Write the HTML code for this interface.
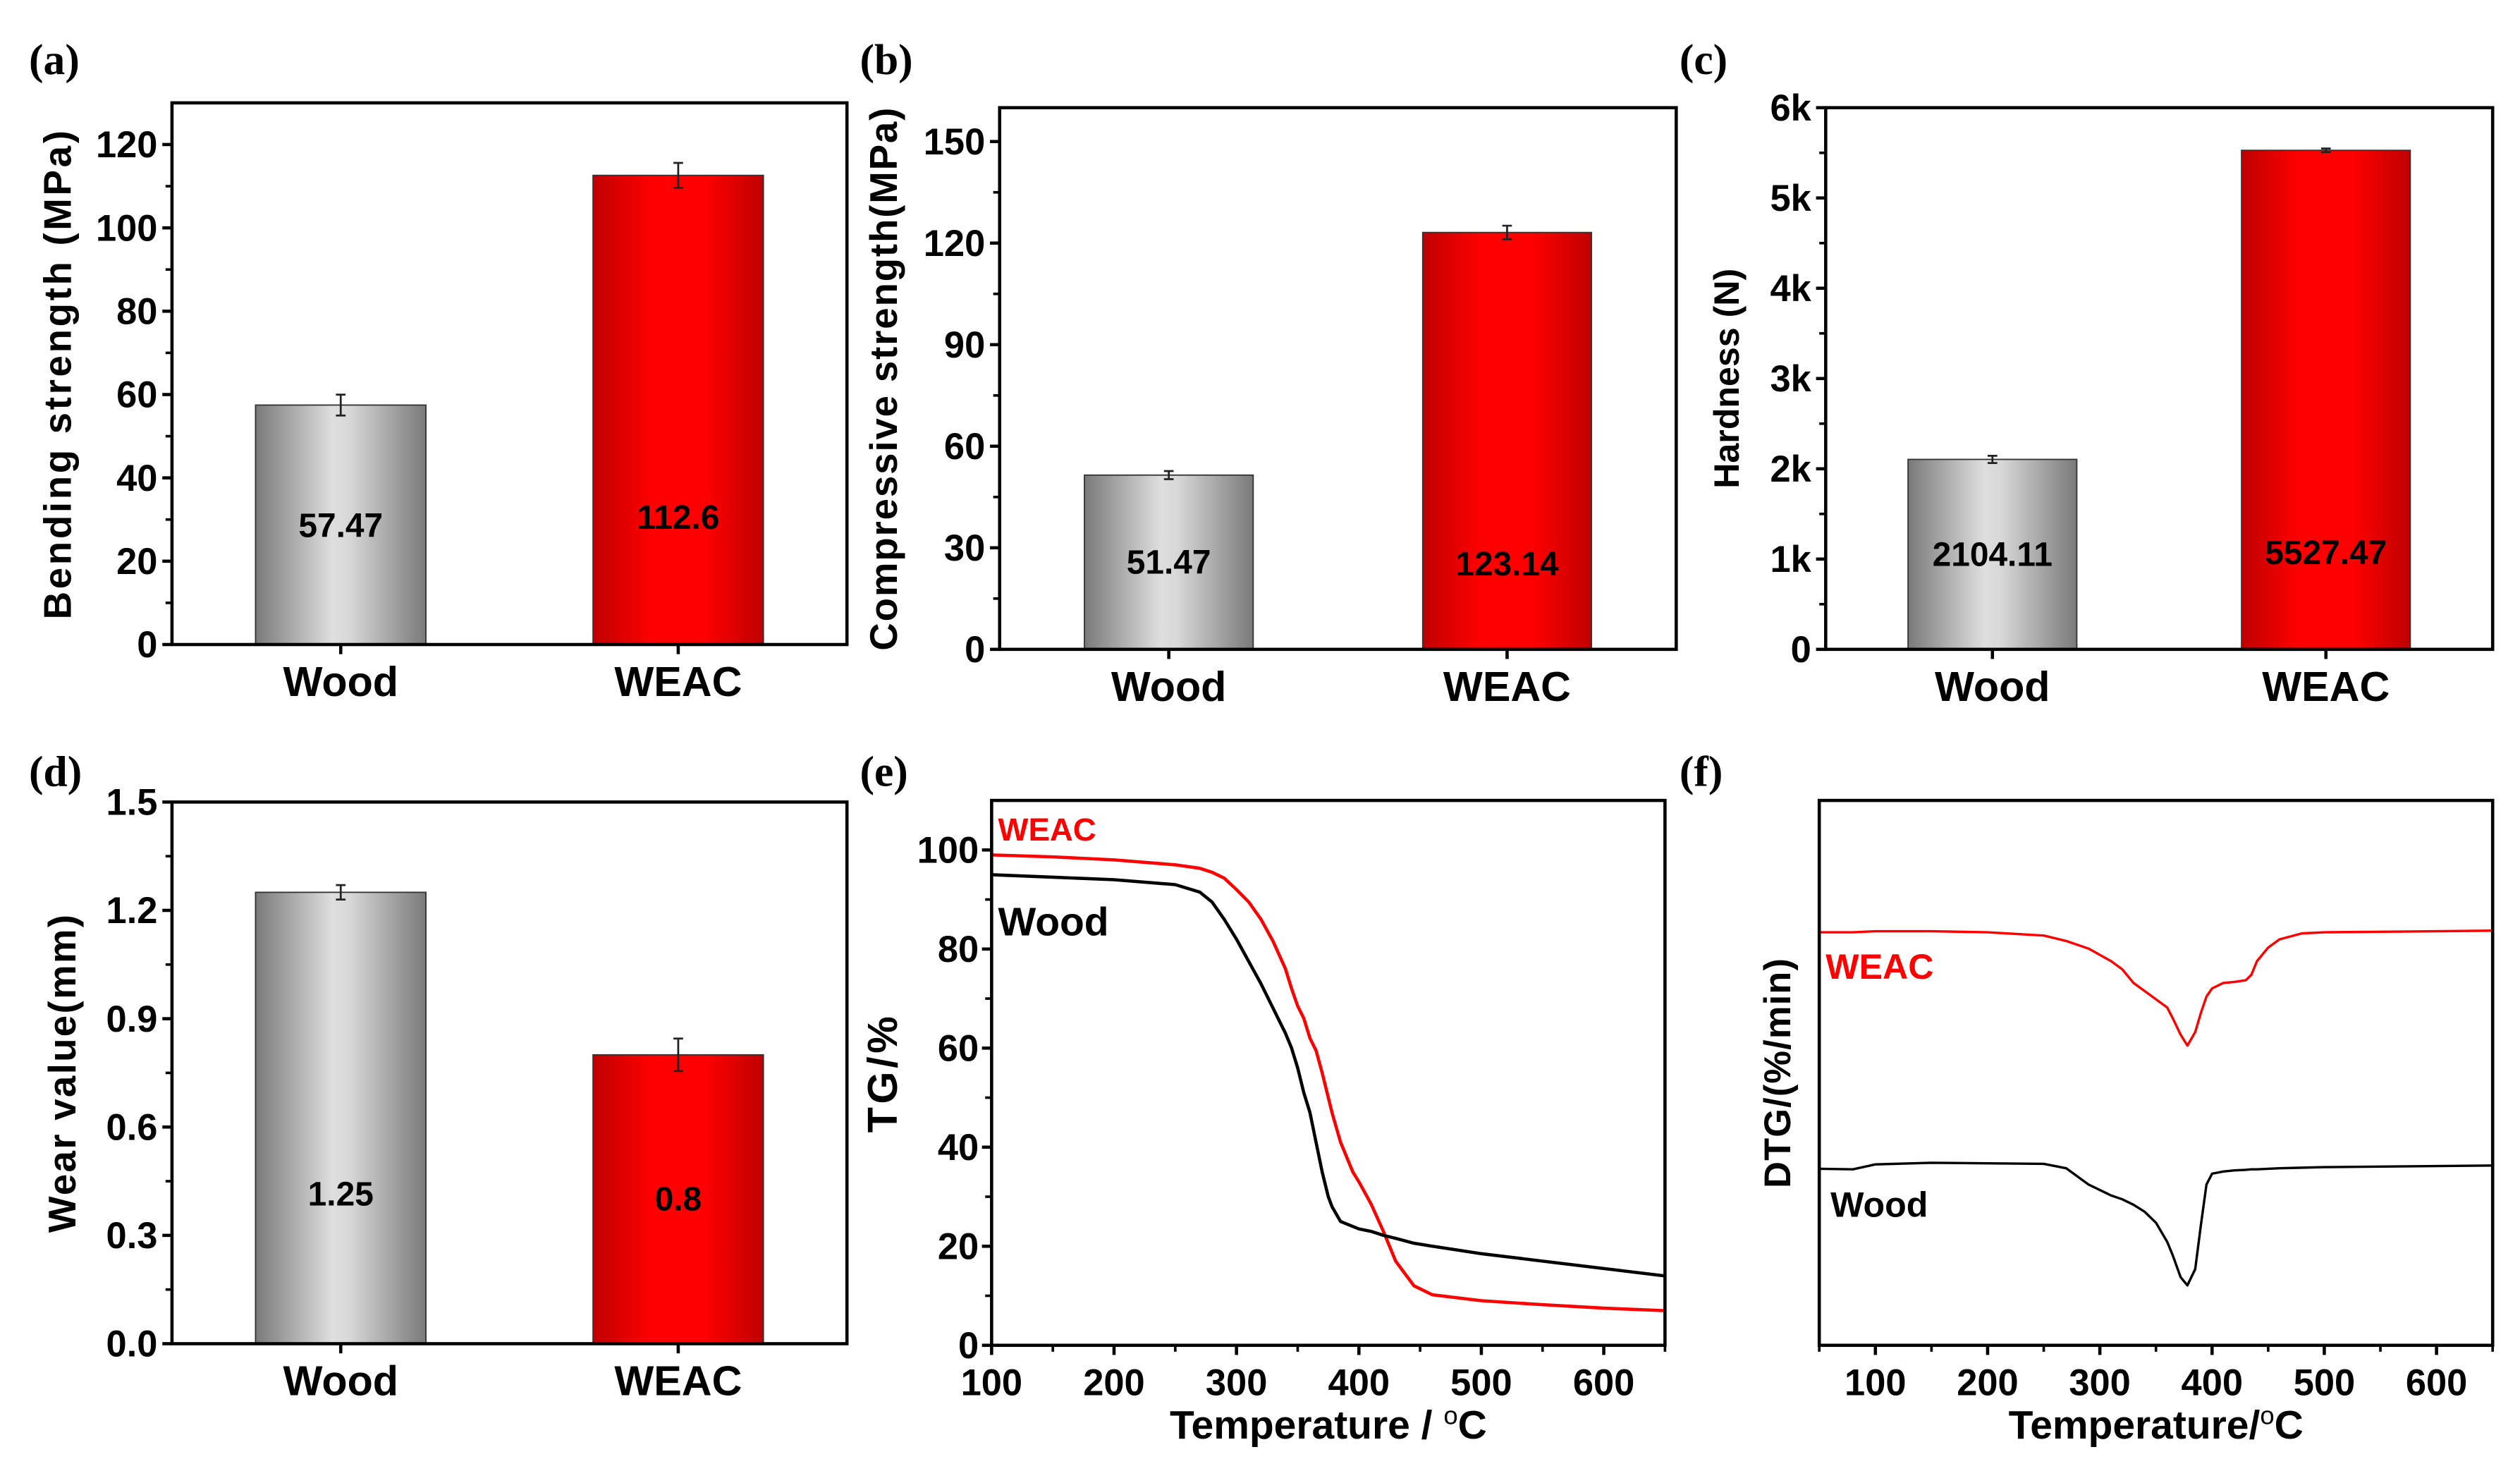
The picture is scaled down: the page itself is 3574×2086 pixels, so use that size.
<!DOCTYPE html>
<html><head><meta charset="utf-8"><style>
html,body{margin:0;padding:0;background:#fff;}
svg{display:block;}
text{font-family:"Liberation Sans",Arial,sans-serif;font-weight:bold;}
.pl{font-family:"Liberation Serif",serif;font-weight:bold;font-size:27px;}
</style></head><body>
<svg id="fig" width="3574" height="2086" viewBox="0 0 1568 915.2" xmlns="http://www.w3.org/2000/svg">
<defs>
<linearGradient id="gGrey" x1="0" x2="1" y1="0" y2="0"><stop offset="0" stop-color="#7a7a7a"/><stop offset="0.45" stop-color="#dedede"/><stop offset="0.55" stop-color="#d8d8d8"/><stop offset="1" stop-color="#7a7a7a"/></linearGradient>
<linearGradient id="gRed" x1="0" x2="1" y1="0" y2="0"><stop offset="0" stop-color="#c00000"/><stop offset="0.35" stop-color="#ff0000"/><stop offset="0.65" stop-color="#ff0000"/><stop offset="1" stop-color="#c00000"/></linearGradient>
</defs>
</svg>
<script>
// ---------- data ----------
const categories = ["Wood", "WEAC"];
const bendValues = [57.47, 112.6];
const bendErr = [2.5, 3.0];
const bendLabels = ["57.47", "112.6"];
const compValues = [51.47, 123.14];
const compErr = [1.2, 2.0];
const compLabels = ["51.47", "123.14"];
const hardValues = [2104.11, 5527.47];
const hardErr = [40, 20];
const hardLabels = ["2104.11", "5527.47"];
const wearValues = [1.25, 0.8];
const wearErr = [0.02, 0.045];
const wearLabels = ["1.25", "0.8"];
const bendTicks = [0, 20, 40, 60, 80, 100, 120];
const compTicks = [0, 30, 60, 90, 120, 150];
const hardTicks = [0, 1000, 2000, 3000, 4000, 5000, 6000];
const hardTickLabels = ["0", "1k", "2k", "3k", "4k", "5k", "6k"];
const wearTicks = [0, 0.3, 0.6, 0.9, 1.2, 1.5];
const wearTickLabels = ["0.0", "0.3", "0.6", "0.9", "1.2", "1.5"];
const tgTemp = [100,150,200,250,270,280,290,300,310,320,330,340,345,350,355,360,365,370,375,378,385,395,400,410,420,430,445,460,500,550,600,650];
const tgWEAC = [99,98.6,98,97,96.3,95.5,94.3,92,89.5,86,81.5,76,72,68.5,66,62,59.5,55,50,47,41,35,33,28.5,23,17,12,10.2,9,8.2,7.5,7];
const tgWood = [95,94.5,94,93,91.5,89.5,86,82,77.5,73,68,63,60,56,51,47,41,35,30,28,25,24,23.5,23,22.2,21.6,20.6,20,18.5,17,15.5,14];
const tempTicks = [100, 200, 300, 400, 500, 600];
const tgTicks = [0, 20, 40, 60, 80, 100];
const dtgTemp = [50,80,100,150,200,250,270,290,310,320,330,340,350,360,365,372,378,385,390,395,400,410,420,430,435,440,450,460,480,500,550,600,650];
const dtgWEAC = [75.8,75.8,76,76,75.8,75.2,74.2,72.8,70.5,69,66.5,65,63.5,62,60,57,55,57.5,61,64,65.5,66.5,66.7,67,68,70.5,73,74.5,75.6,75.8,75.9,76,76.1];
const dtgWood = [32.4,32.3,33.2,33.5,33.4,33.3,32.5,29.5,27.5,26.8,25.8,24.5,22.5,19,16.5,12.5,11,14,22,29.5,31.5,31.9,32.1,32.2,32.3,32.3,32.4,32.5,32.6,32.7,32.8,32.9,33];

const NS = "http://www.w3.org/2000/svg";
const svg = document.getElementById("fig");
function mk(tag, attrs, parent) {
  const e = document.createElementNS(NS, tag);
  for (const k in attrs) e.setAttribute(k, attrs[k]);
  (parent || svg).appendChild(e);
  return e;
}
function txt(s, attrs, parent) { const t = mk("text", attrs, parent); t.textContent = s; return t; }

function panelLabel(s, x, y) {
  const t = txt(s, {x: x, y: y, class: "pl"});
  
  
}

function frame(g, L, T, R, B) {
  const r = mk("rect", {x: L, y: T, width: R - L, height: B - T, fill: "none", stroke: "#000", "stroke-width": 2}, g);
  
  
}

function yTitle(g, s, x, cy, size, ls) {
  const t = txt(s, {x: x, y: cy, "font-size": size, "letter-spacing": ls || 0, "text-anchor": "middle", transform: "rotate(-90 " + x + " " + cy + ")"}, g);
  
  
}

function barPanel(opt) {
  const g = mk("g", {});
  
  
  const L = opt.L, T = opt.T, R = opt.R, B = opt.B;
  const ys = v => B - (v / opt.ymax) * (B - T);
  const xs = i => L + (R - L) * (i === 0 ? 0.25 : 0.75);
  const bw = opt.bw;
  opt.values.forEach((v, i) => {
    const cx = xs(i);
    const rect = mk("rect", {x: cx - bw / 2, y: ys(v), width: bw, height: B - ys(v), fill: i === 0 ? "url(#gGrey)" : "url(#gRed)", stroke: "#333", "stroke-width": 0.8}, g);
    
    
    const e = opt.err[i];
    const eb = mk("path", {d: "M" + (cx - 3) + " " + ys(v + e) + "H" + (cx + 3) + "M" + cx + " " + ys(v + e) + "V" + ys(v - e) + "M" + (cx - 3) + " " + ys(v - e) + "H" + (cx + 3), stroke: "#222", "stroke-width": 1.2, fill: "none"}, g);
    
    
    const vt = txt(opt.labels[i], {x: cx, y: opt.valY[i], "font-size": 21, "text-anchor": "middle"}, g);
    
    
    const ct = txt(categories[i], {x: cx, y: B + 32, "font-size": 26, "text-anchor": "middle"}, g);
    
    
    mk("line", {x1: cx, x2: cx, y1: B, y2: B + 6, stroke: "#000", "stroke-width": 2}, g);
  });
  frame(g, L, T, R, B);
  opt.ticks.forEach((v, i) => {
    const y = ys(v);
    mk("line", {x1: L - 6, x2: L, y1: y, y2: y, stroke: "#000", "stroke-width": 2}, g);
    const tl = txt(opt.tickLabels ? opt.tickLabels[i] : String(v), {x: L - 9, y: y + 8, "font-size": 23, "text-anchor": "end"}, g);
    
    
    const m = v + opt.minor;
    if (ys(m) > T) mk("line", {x1: L - 4, x2: L, y1: ys(m), y2: ys(m), stroke: "#000", "stroke-width": 1.6}, g);
  });
  yTitle(g, opt.title, opt.titleX, (T + B) / 2, opt.titleSize || 24, opt.ls);
}

barPanel({name: "panel-a-bending", L: 107, T: 64, R: 527, B: 401, ymax: 130, bw: 106, values: bendValues, err: bendErr, labels: bendLabels, valY: [334, 329], ticks: bendTicks, minor: 10, title: "Bending strength (MPa)", titleX: 44, ls: 1.6});
barPanel({name: "panel-b-compressive", L: 622, T: 67, R: 1043, B: 404, ymax: 160, bw: 105, values: compValues, err: compErr, labels: compLabels, valY: [357, 358], ticks: compTicks, minor: 15, title: "Compressive strength(MPa)", titleX: 558, ls: 0.8});
barPanel({name: "panel-c-hardness", L: 1136, T: 67, R: 1551, B: 404, ymax: 6000, bw: 105, values: hardValues, err: hardErr, labels: hardLabels, valY: [352, 351], ticks: hardTicks, tickLabels: hardTickLabels, minor: 500, title: "Hardness (N)", titleX: 1082, titleSize: 22});
barPanel({name: "panel-d-wear", L: 107, T: 499, R: 527, B: 836, ymax: 1.5, bw: 106, values: wearValues, err: wearErr, labels: wearLabels, valY: [750, 753], ticks: wearTicks, tickLabels: wearTickLabels, minor: 0.15, title: "Wear value(mm)", titleX: 47, ls: 1});

function linePanel(opt) {
  const g = mk("g", {});
  
  
  const L = opt.L, T = opt.T, R = opt.R, B = opt.B;
  const xs = v => L + (v - opt.xmin) / (opt.xmax - opt.xmin) * (R - L);
  const ys = v => B - (v - opt.ymin) / (opt.ymax - opt.ymin) * (B - T);
  opt.series.forEach(s => {
    const d = s.y.map((v, i) => (i ? "L" : "M") + xs(opt.x[i]).toFixed(2) + " " + ys(v).toFixed(2)).join("");
    const p = mk("path", {d: d, fill: "none", stroke: s.color, "stroke-width": s.w || 2, "stroke-linejoin": "round"}, g);
    
    
    const t = txt(s.label, {x: s.lx, y: s.ly, "font-size": s.ls, fill: s.color}, g);
    
    
  });
  frame(g, L, T, R, B);
  for (let v = opt.xmin; v <= opt.xmax + 0.1; v += 50) {
    const major = v % 100 === 0;
    mk("line", {x1: xs(v), x2: xs(v), y1: B, y2: B + (major ? 6 : 4), stroke: "#000", "stroke-width": major ? 2 : 1.6}, g);
  }
  tempTicks.forEach(v => {
    const t = txt(String(v), {x: xs(v), y: B + 31, "font-size": 23, "text-anchor": "middle"}, g);
    
    
  });
  if (opt.yticks) {
    opt.yticks.forEach(v => {
      mk("line", {x1: L - 6, x2: L, y1: ys(v), y2: ys(v), stroke: "#000", "stroke-width": 2}, g);
      if (ys(v + 10) > T) mk("line", {x1: L - 4, x2: L, y1: ys(v + 10), y2: ys(v + 10), stroke: "#000", "stroke-width": 1.6}, g);
      const t = txt(String(v), {x: L - 8, y: ys(v) + 8, "font-size": 23, "text-anchor": "end"}, g);
      
      
    });
  }
  const xt = txt("", {x: (L + R) / 2, y: B + 58, "font-size": 25, "text-anchor": "middle"}, g);
  
  
  const t1 = document.createElementNS(NS, "tspan"); t1.textContent = opt.xTitle; xt.appendChild(t1);
  const t2 = document.createElementNS(NS, "tspan"); t2.textContent = "o"; t2.setAttribute("font-size", 16); t2.setAttribute("dy", -9); t2.setAttribute("font-weight", "normal"); xt.appendChild(t2);
  const t3 = document.createElementNS(NS, "tspan"); t3.textContent = "C"; t3.setAttribute("dy", 9); xt.appendChild(t3);
  yTitle(g, opt.yTitle, opt.titleX, (T + B) / 2, opt.ts, opt.tls);
}

linePanel({name: "panel-e-tg", L: 617, T: 498, R: 1036, B: 837, xmin: 100, xmax: 650, ymin: 0, ymax: 110, x: tgTemp, yticks: tgTicks,
  series: [{key: "weac", y: tgWEAC, color: "#ff0000", label: "WEAC", lx: 621, ly: 523, ls: 20},
           {key: "wood", y: tgWood, color: "#000", label: "Wood", lx: 621, ly: 582, ls: 25}],
  xTitle: "Temperature / ", yTitle: "TG/%", titleX: 558, ts: 26, tls: 2});
linePanel({name: "panel-f-dtg", L: 1132, T: 498, R: 1551, B: 837, xmin: 50, xmax: 650, ymin: 0, ymax: 100, x: dtgTemp, yticks: null,
  series: [{key: "weac", y: dtgWEAC, color: "#ff0000", label: "WEAC", lx: 1136, ly: 609, ls: 22, w: 1.5},
           {key: "wood", y: dtgWood, color: "#000", label: "Wood", lx: 1139, ly: 757, ls: 22, w: 1.5}],
  xTitle: "Temperature/", yTitle: "DTG/(%/min)", titleX: 1114, ts: 23, tls: 0.5});

panelLabel("(a)", 18, 46);
panelLabel("(b)", 535, 46);
panelLabel("(c)", 1045, 46);
panelLabel("(d)", 18, 489);
panelLabel("(e)", 535, 489);
panelLabel("(f)", 1045, 489);
</script>
</body></html>
